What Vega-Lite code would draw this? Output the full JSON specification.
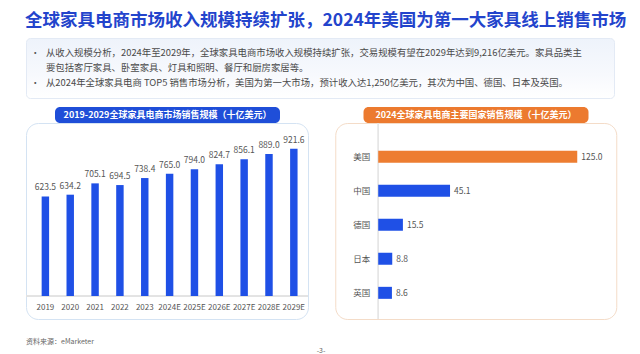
{
  "$schema": "https://vega.github.io/schema/vega-lite/v6.json",
  "padding": {"left": 25, "top": 12, "right": 0, "bottom": 0},
  "background": "white",
  "config": {
    "font": "Noto Sans CJK SC",
    "view": {"stroke": null},
    "text": {"font": "Noto Sans CJK SC"}
  },
  "title": {
    "text": "全球家具电商市场收入规模持续扩张，2024年美国为第一大家具线上销售市场",
    "anchor": "start",
    "fontSize": 17.5,
    "fontWeight": "bold",
    "color": "#2344cc",
    "font": "Noto Sans CJK SC",
    "offset": 8
  },
  "spacing": 8,
  "vconcat": [
    {
      "width": 588,
      "height": 60,
      "view": {
        "stroke": "#e3eaf5",
        "cornerRadius": 4,
        "fill": {
          "gradient": "linear",
          "x1": 0, "y1": 0, "x2": 0, "y2": 1,
          "stops": [
            {"offset": 0, "color": "#eef3fb"},
            {"offset": 0.6, "color": "#f7f9fd"},
            {"offset": 1, "color": "#ffffff"}
          ]
        }
      },
      "data": {
        "values": [
          {"line": 1, "bullet": "•", "text": "从收入规模分析，2024年至2029年，全球家具电商市场收入规模持续扩张，交易规模有望在2029年达到9,216亿美元。家具品类主"},
          {"line": 2, "bullet": "", "text": "要包括客厅家具、卧室家具、灯具和照明、餐厅和厨房家居等。"},
          {"line": 3, "bullet": "•", "text": "从2024年全球家具电商 TOP5 销售市场分析，美国为第一大市场，预计收入达1,250亿美元，其次为中国、德国、日本及英国。"}
        ]
      },
      "encoding": {
        "y": {"field": "line", "type": "ordinal", "scale": {"type": "point", "padding": 1.07}, "axis": null}
      },
      "layer": [
        {
          "mark": {"type": "text", "align": "left", "baseline": "middle", "fontSize": 9, "color": "#555"},
          "encoding": {
            "x": {"datum": 0.8, "type": "quantitative", "scale": {"domain": [0, 100], "nice": false}, "axis": null},
            "text": {"field": "bullet"}
          }
        },
        {
          "mark": {"type": "text", "align": "left", "baseline": "middle", "fontSize": 9.4, "color": "#4a4a4a"},
          "encoding": {
            "x": {"datum": 3.4, "type": "quantitative", "scale": {"domain": [0, 100], "nice": false}},
            "text": {"field": "text"}
          }
        }
      ]
    },
    {
      "spacing": 25,
      "hconcat": [
        {
          "spacing": -3,
          "center": true,
          "vconcat": [
            {
              "width": 225,
              "height": 16,
              "view": {"fill": "#1f4ed8", "cornerRadius": 5, "stroke": null},
              "data": {"values": [{"t": "2019-2029全球家具电商市场销售规模（十亿美元）"}]},
              "mark": {"type": "text", "align": "center", "baseline": "middle", "fontSize": 9, "fontWeight": "bold", "color": "white"},
              "encoding": {
                "x": {"datum": 0.5, "type": "quantitative", "scale": {"domain": [0, 1], "nice": false}, "axis": null},
                "y": {"datum": 0.5, "type": "quantitative", "scale": {"domain": [0, 1], "nice": false}, "axis": null},
                "text": {"field": "t"}
              }
            },
            {
              "width": 282,
              "height": 196,
              "view": {"stroke": "#d4e3f3", "cornerRadius": 12, "fill": "white", "strokeWidth": 1},
              "data": {
                "values": [
                  {"year": "2019", "value": 623.5},
                  {"year": "2020", "value": 634.2},
                  {"year": "2021", "value": 705.1},
                  {"year": "2022", "value": 694.5},
                  {"year": "2023", "value": 738.4},
                  {"year": "2024E", "value": 765.0},
                  {"year": "2025E", "value": 794.0},
                  {"year": "2026E", "value": 824.7},
                  {"year": "2027E", "value": 856.1},
                  {"year": "2028E", "value": 889.0},
                  {"year": "2029E", "value": 921.6}
                ]
              },
              "encoding": {
                "x": {"field": "year", "type": "nominal", "sort": null, "scale": {"paddingInner": 0.7, "paddingOuter": 0.525, "align": 0.6}, "axis": null}
              },
              "layer": [
                {
                  "mark": {"type": "rule", "color": "#e3e3e3", "strokeWidth": 1},
                  "encoding": {
                    "x": null,
                    "y": {"datum": 0, "type": "quantitative", "scale": {"domain": [-144, 1083], "nice": false, "zero": false}, "axis": null}
                  }
                },
                {
                  "mark": {"type": "bar", "color": "#1f50e6"},
                  "encoding": {
                    "y": {"field": "value", "type": "quantitative", "scale": {"domain": [-144, 1083], "nice": false, "zero": false}, "axis": null},
                    "y2": {"datum": 0}
                  }
                },
                {
                  "mark": {"type": "text", "baseline": "bottom", "dy": -4, "fontSize": 8.5, "color": "#555"},
                  "encoding": {
                    "y": {"field": "value", "type": "quantitative", "scale": {"domain": [-144, 1083], "nice": false, "zero": false}, "axis": null},
                    "text": {"field": "value", "type": "quantitative", "format": ".1f"}
                  }
                },
                {
                  "mark": {"type": "text", "baseline": "middle", "fontSize": 8, "color": "#555"},
                  "encoding": {
                    "y": {"datum": -75, "type": "quantitative", "scale": {"domain": [-144, 1083], "nice": false, "zero": false}, "axis": null},
                    "text": {"field": "year"}
                  }
                }
              ]
            }
          ]
        },
        {
          "spacing": -3,
          "center": true,
          "vconcat": [
            {
              "width": 225,
              "height": 16,
              "view": {"fill": "#ec7a2f", "cornerRadius": 5, "stroke": null},
              "data": {"values": [{"t": "2024全球家具电商主要国家销售规模（十亿美元）"}]},
              "mark": {"type": "text", "align": "center", "baseline": "middle", "fontSize": 9, "fontWeight": "bold", "color": "white"},
              "encoding": {
                "x": {"datum": 0.5, "type": "quantitative", "scale": {"domain": [0, 1], "nice": false}, "axis": null},
                "y": {"datum": 0.5, "type": "quantitative", "scale": {"domain": [0, 1], "nice": false}, "axis": null},
                "text": {"field": "t"}
              }
            },
            {
              "width": 281,
              "height": 196,
              "view": {"stroke": "#f4dcc8", "cornerRadius": 12, "fill": "white", "strokeWidth": 1},
              "data": {
                "values": [
                  {"country": "美国", "value": 125.0},
                  {"country": "中国", "value": 45.1},
                  {"country": "德国", "value": 15.5},
                  {"country": "日本", "value": 8.8},
                  {"country": "英国", "value": 8.6}
                ]
              },
              "encoding": {
                "y": {"field": "country", "type": "nominal", "sort": null, "scale": {"paddingInner": 0.647, "paddingOuter": 0.706, "align": 0.58}, "axis": null}
              },
              "layer": [
                {
                  "mark": {"type": "rule", "color": "#e6e6e6", "strokeWidth": 1},
                  "encoding": {
                    "y": null,
                    "x": {"datum": 0, "type": "quantitative", "scale": {"domain": [-27, 149.5], "nice": false, "zero": false}, "axis": null}
                  }
                },
                {
                  "mark": {"type": "bar"},
                  "encoding": {
                    "x": {"field": "value", "type": "quantitative", "scale": {"domain": [-27, 149.5], "nice": false, "zero": false}, "axis": null},
                    "x2": {"datum": 0},
                    "color": {
                      "condition": {"test": "datum.country === '美国'", "value": "#ed7d31"},
                      "value": "#1f50e6"
                    }
                  }
                },
                {
                  "mark": {"type": "text", "align": "left", "baseline": "middle", "dx": 4, "fontSize": 8.5, "color": "#555"},
                  "encoding": {
                    "x": {"field": "value", "type": "quantitative", "scale": {"domain": [-27, 149.5], "nice": false, "zero": false}, "axis": null},
                    "text": {"field": "value", "type": "quantitative", "format": ".1f"}
                  }
                },
                {
                  "mark": {"type": "text", "align": "right", "baseline": "middle", "fontSize": 8.5, "color": "#555"},
                  "encoding": {
                    "x": {"datum": -5, "type": "quantitative", "scale": {"domain": [-27, 149.5], "nice": false, "zero": false}, "axis": null},
                    "text": {"field": "country"}
                  }
                }
              ]
            }
          ]
        }
      ]
    },
    {
      "width": 588,
      "height": 28,
      "data": {
        "values": [
          {"label": "资料来源：eMarketer", "kind": "source"},
          {"label": "-3-", "kind": "page"}
        ]
      },
      "layer": [
        {
          "transform": [{"filter": "datum.kind === 'source'"}],
          "mark": {"type": "text", "align": "left", "baseline": "middle", "fontSize": 7, "color": "#666"},
          "encoding": {
            "x": {"datum": 0, "type": "quantitative", "scale": {"domain": [0, 588], "nice": false}, "axis": null},
            "y": {"datum": 14, "type": "quantitative", "scale": {"domain": [0, 28], "reverse": true, "nice": false}, "axis": null},
            "text": {"field": "label"}
          }
        },
        {
          "transform": [{"filter": "datum.kind === 'page'"}],
          "mark": {"type": "text", "align": "center", "baseline": "middle", "fontSize": 7, "color": "#666"},
          "encoding": {
            "x": {"datum": 295, "type": "quantitative", "scale": {"domain": [0, 588], "nice": false}},
            "y": {"datum": 23, "type": "quantitative", "scale": {"domain": [0, 28], "reverse": true, "nice": false}},
            "text": {"field": "label"}
          }
        }
      ]
    }
  ]
}
